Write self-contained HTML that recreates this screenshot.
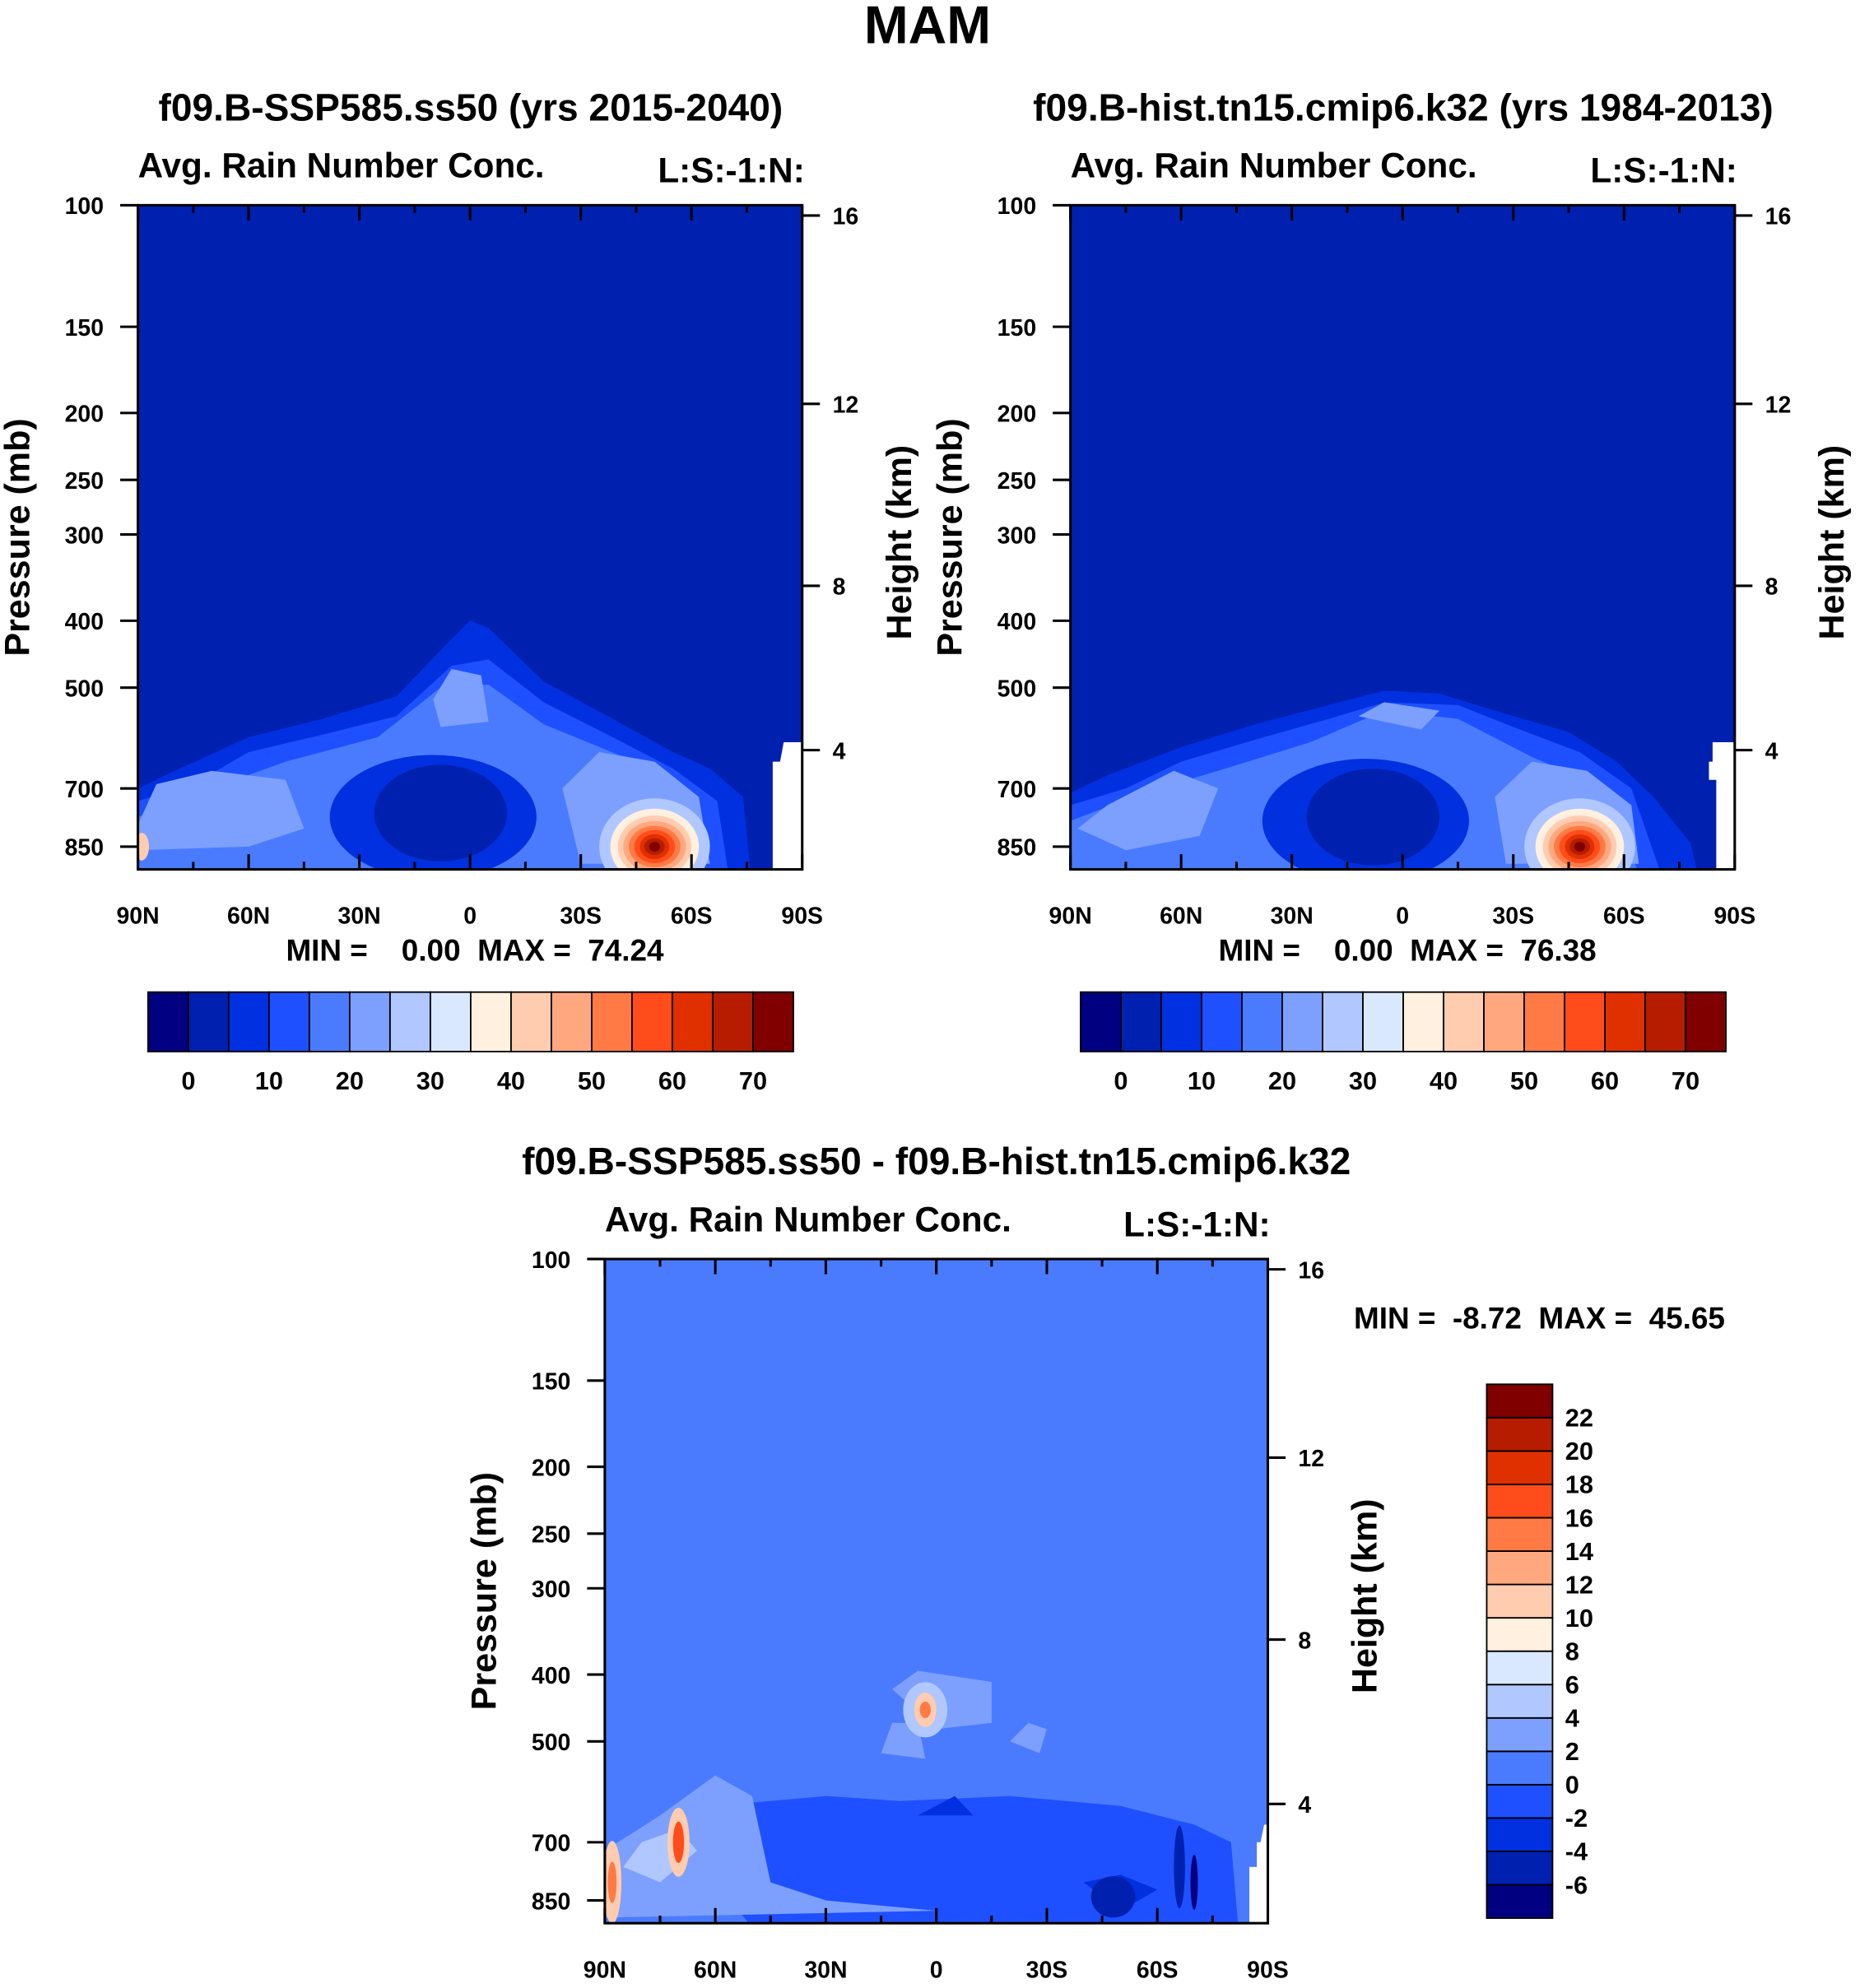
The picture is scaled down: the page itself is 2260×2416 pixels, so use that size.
<!DOCTYPE html>
<html><head><meta charset="utf-8"><style>
html,body{margin:0;padding:0;background:#fff}
svg{display:block}
text{font-family:"Liberation Sans",Arial,sans-serif;font-weight:bold;fill:#000}
</style></head><body>
<svg id="fig" xmlns="http://www.w3.org/2000/svg" width="2260" height="2416" viewBox="0 0 1470 1571">
<rect width="1470" height="1571" fill="#fff"/>
<text x="733" y="34" font-size="42" text-anchor="middle">MAM</text>
</svg>
<script>
// ---- data ----
const absColors=["#000080","#0020B0","#0030E0","#1E50FF","#4A7BFF","#7DA0FF","#B0C8FF","#D9E8FF","#FFF0E0","#FFCCB0","#FFA880","#FF7A45","#FF4C1A","#E03000","#B51C00","#800000"];
const absLevels=[0,5,10,15,20,25,30,35,40,45,50,55,60,65,70];
const absLabels=["0","","10","","20","","30","","40","","50","","60","","70"];
const diffLevels=[-6,-4,-2,0,2,4,6,8,10,12,14,16,18,20,22];
const latTicks=[90,60,30,0,-30,-60,-90];
const latTickLabels=["90N","60N","30N","0","30S","60S","90S"];
const presTicks=[100,150,200,250,300,400,500,700,850];
const heightTicks=[16,12,8,4];
const heightPres=[103.5,194,356,616]; // standard atmosphere pressure for heights
const panelTitles=["f09.B-SSP585.ss50 (yrs 2015-2040)","f09.B-hist.tn15.cmip6.k32 (yrs 1984-2013)","f09.B-SSP585.ss50 - f09.B-hist.tn15.cmip6.k32"];
const minVals=[0.00,0.00,-8.72];
const maxVals=[74.24,76.38,45.65];
// contour layers: [colorIndex, polygon of [lat,p]]
const p1Layers=[
 [2,[[90,700],[80,660],[60,590],[40,555],[20,515],[5,425],[0,400],[-5,410],[-20,490],[-40,560],[-55,620],[-65,655],[-74,720],[-76,930],[90,930]]],
 [3,[[90,730],[75,690],[60,620],[40,585],[20,550],[5,465],[-5,455],[-20,525],[-40,595],[-55,655],[-67,730],[-70,930],[90,930]]],
 [4,[[90,770],[70,700],[50,640],[25,590],[8,500],[-5,495],[-20,565],[-40,625],[-58,705],[-64,930],[90,930]]],
 [5,[[90,790],[85,690],[70,660],[50,680],[45,800],[60,850],[90,860]]],
 [5,[[10,520],[5,470],[-3,480],[-5,560],[8,570]]],
 [5,[[-25,700],[-35,620],[-50,640],[-62,720],[-65,900],[-30,900]]]
];
const p2Layers=[
 [2,[[90,710],[80,670],[60,610],[40,565],[20,530],[5,505],[-10,510],[-25,540],[-45,580],[-58,640],[-68,720],[-78,840],[-80,930],[90,930]]],
 [3,[[90,740],[75,700],[60,640],[40,595],[20,555],[5,525],[-15,530],[-30,570],[-48,620],[-62,700],[-70,930],[90,930]]],
 [4,[[90,780],[70,710],[50,660],[25,600],[5,540],[-15,555],[-35,630],[-55,700],[-64,930],[90,930]]],
 [5,[[88,800],[80,740],[62,660],[50,700],[55,820],[75,860]]],
 [5,[[12,550],[5,525],[-10,540],[-5,575]]],
 [5,[[-25,720],[-35,640],[-50,660],[-62,740],[-64,900],[-28,900]]]
];
const p3Layers=[
 [3,[[60,620],[30,600],[10,610],[-20,600],[-50,620],[-70,660],[-80,700],[-82,930],[50,930],[60,800]]],
 [2,[[5,640],[-10,640],[-5,600]]],
 [2,[[-40,800],[-50,780],[-60,820],[-50,880]]],
 [5,[[90,720],[75,640],[60,560],[50,600],[45,800],[30,850],[0,880],[90,900]]],
 [5,[[15,520],[12,470],[5,470],[3,530]]],
 [5,[[-20,500],[-25,470],[-30,480],[-28,520]]],
 [5,[[12,420],[5,395],[-15,410],[-15,470],[0,480]]],
 [6,[[85,760],[80,700],[70,670],[65,720],[75,800]]]
];
// hot spots: [lat, p, latRadius, logRadius, colorIndex]
const p1Spots=[[-50,850,15,0.07,6],[-50,850,12,0.055,8],[-50,850,10,0.045,9],[-50,850,8.5,0.037,10],[-50,850,7,0.03,11],[-50,850,5.5,0.024,12],[-50,850,4,0.018,13],[-50,850,2.8,0.012,14],[-50,850,1.5,0.007,15],[89,850,2,0.02,9],[10,770,28,0.09,2],[8,760,18,0.07,1]];
const p2Spots=[[-48,850,15,0.07,6],[-48,850,12,0.055,8],[-48,850,10,0.045,9],[-48,850,8.5,0.037,10],[-48,850,7,0.03,11],[-48,850,5.5,0.024,12],[-48,850,4,0.018,13],[-48,850,2.8,0.012,14],[-48,850,1.5,0.007,15],[10,780,28,0.09,2],[8,770,18,0.07,1]];
const p3Spots=[[3,450,6,0.04,6],[3,450,3,0.025,9],[3,450,1.5,0.012,11],[70,700,3,0.05,9],[70,700,1.5,0.03,12],[88,800,2.5,0.06,9],[88,800,1.2,0.03,11],[-48,840,6,0.03,1],[-66,760,1.5,0.06,1],[-70,800,1,0.04,0]];
const diffColors=absColors;
// ---- drawing ----
const svg=document.getElementById('fig');
const NS='http://www.w3.org/2000/svg';
function mk(tag,attrs,parent){const e=document.createElementNS(NS,tag);for(const k in attrs)e.setAttribute(k,attrs[k]);(parent||svg).appendChild(e);return e;}
function txt(x,y,s,size,anchor,parent){const t=mk('text',{x:x,y:y,'font-size':size,'text-anchor':anchor||'start'},parent);t.textContent=s;return t;}
const LOGB=Math.log10(9.17);
function panel(idx,x0,y0,w,h,bg,layers,spots,whitePoly){
 const g=mk('g',{});
 
 
 const X=lat=>x0+(90-lat)/180*w;
 const Y=p=>y0+h*Math.log10(p/100)/LOGB;
 const cid='clip'+idx;
 const cp=mk('clipPath',{id:cid},g);mk('rect',{x:x0,y:y0,width:w,height:h},cp);
 const cg=mk('g',{'clip-path':'url(#'+cid+')'},g);
 const bgr=mk('rect',{x:x0,y:y0,width:w,height:h,fill:bg},cg);
 
 
 layers.forEach(L=>{const pts=L[1].map(q=>X(q[0]).toFixed(1)+','+Y(q[1]).toFixed(1)).join(' ');
  const pl=mk('polygon',{points:pts,fill:absColors[L[0]],'stroke-linejoin':'round'},cg);
  
  });
 spots.forEach(s=>{const cy=Y(s[1]);const ry=h*s[3]/LOGB;
  const el=mk('ellipse',{cx:X(s[0]),cy:cy,rx:s[2]/180*w,ry:ry,fill:absColors[s[4]]},cg);
  
  });
 if(whitePoly){const pts=whitePoly.map(q=>X(q[0]).toFixed(1)+','+Y(q[1]).toFixed(1)).join(' ');
  const wp=mk('polygon',{points:pts,fill:'#fff'},cg);
  
  }
 const fr=mk('rect',{x:x0,y:y0,width:w,height:h,fill:'none',stroke:'#000','stroke-width':2},g);
 
 
 for(let lat=90;lat>=-90;lat-=15){const x=X(lat);const major=lat%30===0;const L=major?12:6;
  mk('line',{x1:x,y1:y0,x2:x,y2:y0+L,stroke:'#000','stroke-width':2},g);
  mk('line',{x1:x,y1:y0+h,x2:x,y2:y0+h-L,stroke:'#000','stroke-width':2},g);}
 latTicks.forEach((lat,i)=>{const t=txt(X(lat),y0+h+43,latTickLabels[i],18.5,'middle',g);
  
  });
 presTicks.forEach(p=>{const y=Y(p);mk('line',{x1:x0-14,y1:y,x2:x0,y2:y,stroke:'#000','stroke-width':2},g);
  const t=txt(x0-27,y+7,String(p),18.5,'end',g);
  
  });
 heightTicks.forEach((hk,i)=>{const y=Y(heightPres[i]);mk('line',{x1:x0+w,y1:y,x2:x0+w+14,y2:y,stroke:'#000','stroke-width':2},g);
  const t=txt(x0+w+24,y+7,String(hk),18.5,'start',g);
  
  });
 let t=mk('text',{x:0,y:0,'font-size':28,'text-anchor':'middle',transform:`translate(${x0-86},${y0+h/2-0}) rotate(-90)`},g);t.textContent='Pressure (mb)';
 
 
 t=mk('text',{x:0,y:0,'font-size':28,'text-anchor':'middle',transform:`translate(${x0+w+86},${y0+h/2+4}) rotate(-90)`},g);t.textContent='Height (km)';
 
 
 t=txt(x0,y0-22,'Avg. Rain Number Conc.',27.5,'start',g);
 
 
 t=txt(x0+w+2,y0-18,'L:S:-1:N:',27.5,'end',g);
 
 
 return {X,Y};
}
[[372,95],[1109,95],[740,928]].forEach((p,i)=>{const t=txt(p[0],p[1],panelTitles[i],30,'middle');
 
 });
panel(0,109,162,525,525,absColors[1],p1Layers,p1Spots,[[-85,600],[-90,600],[-90,950],[-82,950],[-82,640],[-84,640]]);
panel(1,846,162,525,525,absColors[1],p2Layers,p2Spots,[[-84,600],[-90,600],[-90,950],[-85,950],[-85,680],[-83,680],[-83,640],[-84,640]]);
panel(2,478,995,524,525,absColors[4],p3Layers,p3Spots,[[-89,660],[-90,660],[-90,950],[-85,950],[-85,760],[-87,760],[-87,700],[-88,700]]);
function mm(x,y,i){const t=txt(x,y,'MIN = '+(minVals[i]<0?' ':'   ')+minVals[i].toFixed(2)+'  MAX =  '+maxVals[i].toFixed(2),24,'start');
 t.setAttribute('xml:space','preserve');t.style.whiteSpace='pre';
 
 }
mm(226,759,0);mm(963,759,1);mm(1070,1050,2);
function hbar(x0,y0,w,h){const g=mk('g',{});
 
 
 const bw=w/absColors.length;
 absColors.forEach((c,i)=>{const r=mk('rect',{x:x0+i*bw,y:y0,width:bw,height:h,fill:c,stroke:'#000','stroke-width':1.2},g);
  
  });
 absLevels.forEach((lv,i)=>{if(absLabels[i]){const t=txt(x0+(i+1)*bw,y0+h+30,absLabels[i],20,'middle',g);
  
  }});}
hbar(117,784,510,47);hbar(854,784,510,47);
(function(){const x0=1175,y0=1094,w=52,h=422;const g=mk('g',{});
 
 
 const bh=h/diffColors.length;
 diffColors.forEach((c,i)=>{const r=mk('rect',{x:x0,y:y0+h-(i+1)*bh,width:w,height:bh,fill:c,stroke:'#000','stroke-width':1.2},g);
  
  });
 diffLevels.forEach((lv,i)=>{const t=txt(x0+w+10,y0+h-(i+1)*bh+7,String(lv),20,'start',g);
  
  });})();
</script>
</body></html>
